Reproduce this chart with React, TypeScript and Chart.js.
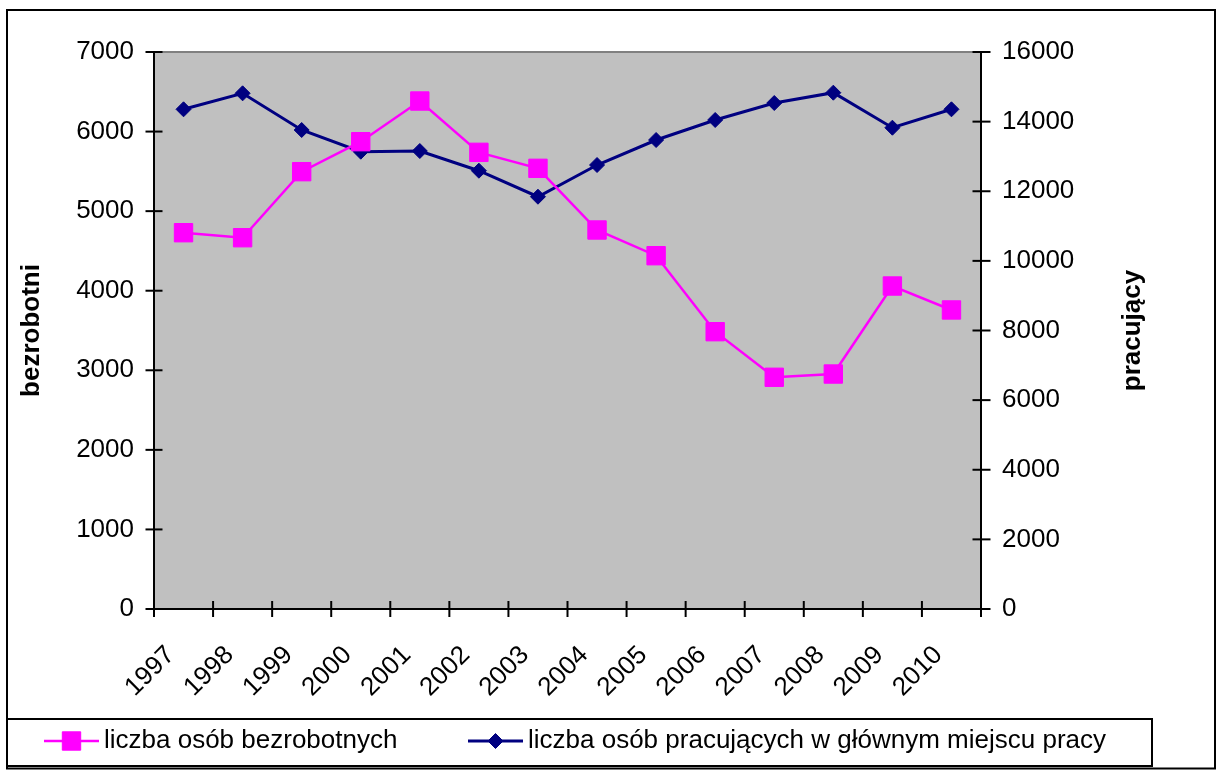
import React, { useEffect, useRef } from "react";
import { Chart, registerables } from "chart.js";

Chart.register(...registerables);

const years = ["1997", "1998", "1999", "2000", "2001", "2002", "2003", "2004", "2005", "2006", "2007", "2008", "2009", "2010"];
const unemployed = [4729, 4666, 5496, 5873, 6384, 5739, 5538, 4763, 4440, 3485, 2912, 2953, 4059, 3758];
const employed = [14354, 14813, 13759, 13136, 13156, 12590, 11843, 12754, 13472, 14047, 14535, 14831, 13825, 14354];
const unemployedLabel = "liczba osób bezrobotnych";
const employedLabel = "liczba osób pracujących w głównym miejscu pracy";
const leftAxisTitle = "bezrobotni";
const rightAxisTitle = "pracujący";
const leftTickLabels = ["0", "1000", "2000", "3000", "4000", "5000", "6000", "7000"];
const rightTickLabels = ["0", "2000", "4000", "6000", "8000", "10000", "12000", "14000", "16000"];
const leftMax = 7000;
const leftStep = 1000;
const rightMax = 16000;
const rightStep = 2000;

const FONT = '"Liberation Sans", Arial, sans-serif';
const PINK = "#FF00FF";
const NAVY = "#000080";

function strokeLine(ctx: CanvasRenderingContext2D, x1: number, y1: number, x2: number, y2: number) {
  ctx.beginPath();
  ctx.moveTo(x1, y1);
  ctx.lineTo(x2, y2);
  ctx.stroke();
}

function drawMarker(ctx: CanvasRenderingContext2D, style: string, x: number, y: number, r: number, color: string) {
  ctx.fillStyle = color;
  ctx.strokeStyle = color;
  ctx.lineWidth = 1;
  ctx.beginPath();
  if (style === "rect") {
    const s = Math.SQRT1_2 * r;
    ctx.rect(x - s, y - s, 2 * s, 2 * s);
  } else {
    ctx.moveTo(x - r, y);
    ctx.lineTo(x, y - r);
    ctx.lineTo(x + r, y);
    ctx.lineTo(x, y + r);
    ctx.closePath();
  }
  ctx.fill();
  ctx.stroke();
}

const framePlugin = {
  id: "frame",
  beforeDraw(chart: any) {
    const { ctx, chartArea } = chart;
    ctx.save();
    ctx.fillStyle = "#FFFFFF";
    ctx.fillRect(0, 0, chart.width, chart.height);
    ctx.fillStyle = "#C0C0C0";
    ctx.fillRect(chartArea.left, chartArea.top, chartArea.right - chartArea.left, chartArea.bottom - chartArea.top);
    ctx.restore();
  },
  beforeDatasetsDraw(chart: any) {
    const { ctx, chartArea, scales } = chart;
    const { left, right, top, bottom } = chartArea;
    ctx.save();
    ctx.lineWidth = 2;
    ctx.strokeStyle = "#808080";
    strokeLine(ctx, left, top, right, top);
    ctx.strokeStyle = "#000000";
    strokeLine(ctx, left, top - 1, left, bottom + 1);
    strokeLine(ctx, left - 1, bottom, right + 1, bottom);
    strokeLine(ctx, right, top - 1, right, bottom + 1);
    scales.y.ticks.forEach((_t: any, i: number) => {
      const yy = scales.y.getPixelForTick(i);
      strokeLine(ctx, left - 8.5, yy, left + 8.5, yy);
    });
    scales.y1.ticks.forEach((_t: any, i: number) => {
      const yy = scales.y1.getPixelForTick(i);
      strokeLine(ctx, right - 8.5, yy, right + 9.5, yy);
    });
    for (let i = 0; i <= years.length; i++) {
      const xx = scales.x.getPixelForValue(i - 0.5);
      strokeLine(ctx, xx, bottom - 8, xx, bottom + 8);
    }
    ctx.restore();
  },
  afterDraw(chart: any) {
    const { ctx, chartArea } = chart;
    const midY = (chartArea.top + chartArea.bottom) / 2;
    ctx.save();
    ctx.fillStyle = "#000000";
    ctx.font = `bold 26px ${FONT}`;
    ctx.textAlign = "center";
    ctx.textBaseline = "alphabetic";
    ctx.save();
    ctx.translate(38.5, midY);
    ctx.rotate(-Math.PI / 2);
    ctx.fillText(leftAxisTitle, 0, 0);
    ctx.restore();
    ctx.save();
    ctx.translate(1140, midY);
    ctx.rotate(-Math.PI / 2);
    ctx.fillText(rightAxisTitle, 0, 0);
    ctx.restore();

    // legend
    ctx.lineWidth = 2;
    ctx.strokeStyle = "#000000";
    ctx.strokeRect(7, 719, 1145, 47);
    const itemX = [44, 468];
    const legendY = 741;
    chart.data.datasets.forEach((ds: any, i: number) => {
      const x0 = itemX[i];
      ctx.strokeStyle = ds.borderColor;
      ctx.lineWidth = ds.borderWidth;
      strokeLine(ctx, x0, legendY, x0 + 55, legendY);
      drawMarker(ctx, ds.pointStyle, x0 + 27.5, legendY, ds.pointRadius, ds.pointBackgroundColor);
      ctx.fillStyle = "#000000";
      ctx.font = `26px ${FONT}`;
      ctx.textAlign = "left";
      ctx.textBaseline = "alphabetic";
      ctx.fillText(ds.label, x0 + 60, 748);
    });

    // outer border
    ctx.lineWidth = 2;
    ctx.strokeStyle = "#000000";
    ctx.strokeRect(7, 10, 1208, 758.5);
    ctx.restore();
  },
};

export default function App() {
  const ref = useRef<HTMLCanvasElement>(null);
  useEffect(() => {
    if (!ref.current) return;
    const tickFont = { family: FONT, size: 26 };
    const chart = new Chart(ref.current, {
      type: "line",
      data: {
        labels: years,
        datasets: [
          {
            label: unemployedLabel,
            data: unemployed,
            yAxisID: "y",
            borderColor: PINK,
            backgroundColor: PINK,
            pointBackgroundColor: PINK,
            pointBorderColor: PINK,
            borderWidth: 2.5,
            pointStyle: "rect",
            pointRadius: 13,
            pointBorderWidth: 1,
            tension: 0,
          },
          {
            label: employedLabel,
            data: employed,
            yAxisID: "y1",
            borderColor: NAVY,
            backgroundColor: NAVY,
            pointBackgroundColor: NAVY,
            pointBorderColor: NAVY,
            borderWidth: 3,
            pointStyle: "rectRot",
            pointRadius: 7.5,
            pointBorderWidth: 1,
            tension: 0,
          },
        ],
      },
      options: {
        responsive: false,
        animation: false,
        events: [],
        layout: { padding: { top: 52, left: 0, right: 0, bottom: 0 } },
        plugins: {
          legend: { display: false },
          tooltip: { enabled: false },
        },
        scales: {
          x: {
            type: "category",
            offset: true,
            grid: { display: false, drawTicks: false },
            border: { display: false },
            ticks: {
              autoSkip: false,
              minRotation: 45,
              maxRotation: 45,
              labelOffset: -13,
              padding: 31,
              color: "#000000",
              font: tickFont,
            },
            afterFit: (s: any) => {
              s.height = 162;
            },
          },
          y: {
            position: "left",
            min: 0,
            max: leftMax,
            grid: { display: false, drawTicks: false },
            border: { display: false },
            ticks: {
              stepSize: leftStep,
              padding: 20,
              color: "#000000",
              font: tickFont,
              callback: (_v: any, i: number) => leftTickLabels[i],
            },
            afterFit: (s: any) => {
              s.width = 154;
            },
          },
          y1: {
            position: "right",
            min: 0,
            max: rightMax,
            grid: { display: false, drawTicks: false },
            border: { display: false },
            ticks: {
              stepSize: rightStep,
              padding: 21,
              color: "#000000",
              font: tickFont,
              callback: (_v: any, i: number) => rightTickLabels[i],
            },
            afterFit: (s: any) => {
              s.width = 235;
            },
          },
        },
      },
      plugins: [framePlugin],
    } as any);
    return () => chart.destroy();
  }, []);
  return (
    <div style={{ position: "absolute", left: 0, top: 0, width: 1216, height: 771, background: "#FFFFFF" }}>
      <canvas ref={ref} width={1216} height={771} style={{ display: "block", width: 1216, height: 771 }} />
    </div>
  );
}
